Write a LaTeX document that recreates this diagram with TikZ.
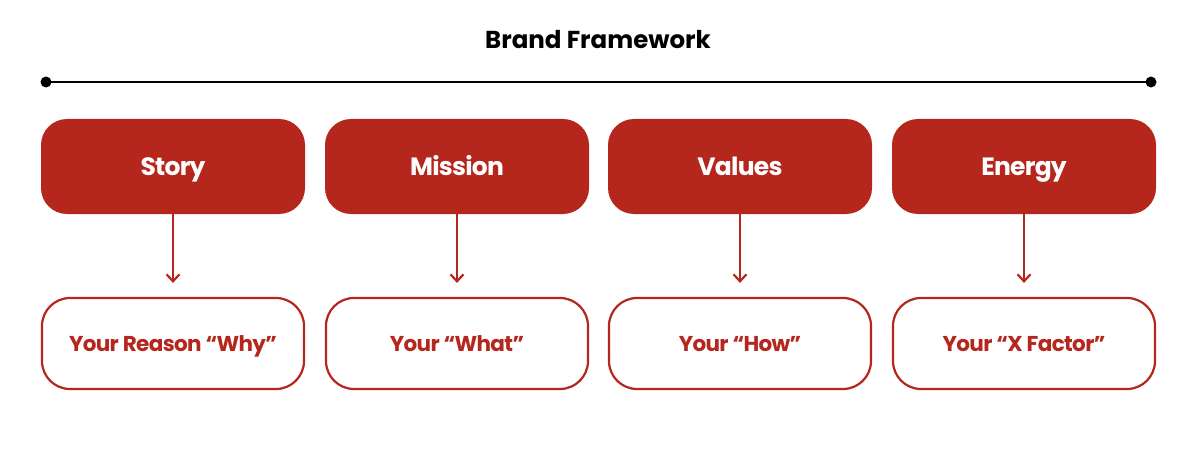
\documentclass[tikz,border=0pt]{standalone}
\usepackage{fontspec}
\setmainfont{Poppins}
\newfontfamily\tightfont{Poppins}[LetterSpace=-3]
\usetikzlibrary{arrows.meta}
\definecolor{brandred}{HTML}{B5261D}
\begin{document}
\begin{tikzpicture}[
  x=1pt, y=1pt,
  pillar/.style={rectangle, rounded corners=26pt, fill=brandred, minimum width=264pt,
    minimum height=95pt, text height=17.5pt, text depth=0pt, text=white,
    font=\tightfont\bfseries\fontsize{25}{30}\selectfont},
  answer/.style={rectangle, rounded corners=28pt, draw=brandred, line width=2.2pt, fill=white,
    minimum width=262pt, minimum height=91pt, text height=15pt, text depth=0pt, text=brandred,
    font=\tightfont\bfseries\fontsize{21.5}{26}\selectfont},
  link/.style={draw=brandred, line width=2.2pt, -{Straight Barb[length=7pt,width=13pt]}, shorten >=14pt}
]
\useasboundingbox (0,0) rectangle (1200,448);
\node[font=\bfseries\fontsize{24.5}{29}\selectfont] (title) at (598,408) {Brand Framework};
\coordinate (lineL) at (46,366);
\coordinate (lineR) at (1151,366);
\draw[line width=2.2pt] (lineL) -- (lineR);
\fill (lineL) circle (5.5pt) (lineR) circle (5.5pt);
\foreach \name/\x/\head/\sub in {story/173/Story/Your Reason “Why”,
    mission/457/Mission/Your “What”,
    values/740/Values/Your “How”,
    energy/1024/Energy/Your “X Factor”} {
  \node[pillar] (\name) at (\x,281.5) {\head};
  \node[answer] (\name-sub) at (\x,104.5) {\sub};
  \draw[link] (\name) -- (\name-sub);
}
\end{tikzpicture}
\end{document}
